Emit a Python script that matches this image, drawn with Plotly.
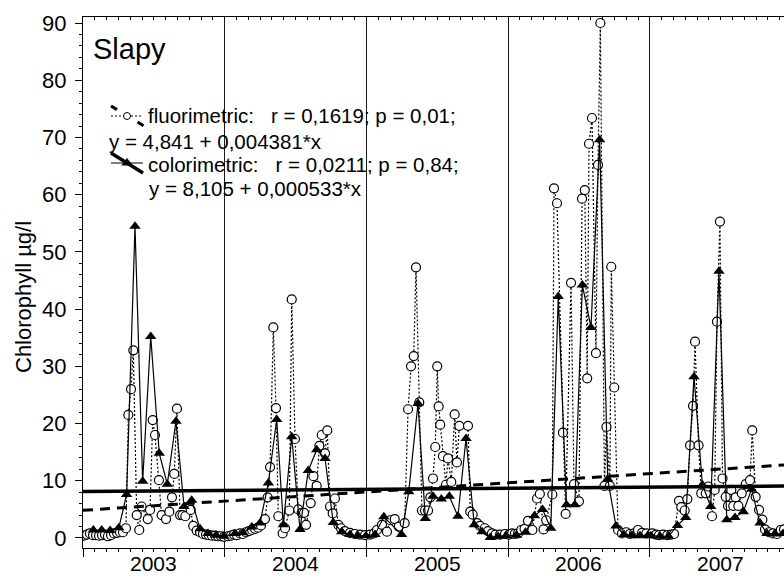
import plotly.graph_objects as go

# ---------------- data (decimal years, chlorophyll µg/l) ----------------
fluor_x = [
    2003.007, 2003.028, 2003.049, 2003.071, 2003.092, 2003.113, 2003.134, 2003.155, 2003.176, 2003.198,
    2003.219, 2003.240, 2003.261, 2003.282, 2003.303, 2003.320, 2003.339, 2003.355, 2003.379, 2003.397,
    2003.414, 2003.457, 2003.473, 2003.492, 2003.508, 2003.536, 2003.555, 2003.586, 2003.609, 2003.628,
    2003.644, 2003.663, 2003.685, 2003.702, 2003.722, 2003.760, 2003.778, 2003.802, 2003.826, 2003.847,
    2003.868, 2003.889, 2003.910, 2003.932, 2003.953, 2003.974, 2003.995,
    2004.023, 2004.044, 2004.066, 2004.087, 2004.108, 2004.129, 2004.150, 2004.171, 2004.193, 2004.214,
    2004.235, 2004.256, 2004.284, 2004.303, 2004.320, 2004.343, 2004.362, 2004.378, 2004.409, 2004.426,
    2004.456, 2004.473, 2004.496, 2004.519, 2004.543, 2004.560, 2004.574, 2004.607, 2004.626, 2004.649,
    2004.668, 2004.685, 2004.708, 2004.724, 2004.743, 2004.762, 2004.778, 2004.802, 2004.821, 2004.849,
    2004.884, 2004.919, 2004.955, 2004.990,
    2005.025, 2005.054, 2005.075, 2005.110, 2005.145, 2005.169, 2005.200, 2005.228, 2005.270, 2005.294,
    2005.315, 2005.334, 2005.350, 2005.373, 2005.392, 2005.414, 2005.435, 2005.451, 2005.470, 2005.486,
    2005.500, 2005.510, 2005.521, 2005.540, 2005.561, 2005.576, 2005.599, 2005.623, 2005.639, 2005.656,
    2005.717, 2005.733, 2005.750, 2005.781, 2005.802, 2005.835, 2005.858, 2005.886, 2005.911, 2005.943,
    2005.978,
    2006.006, 2006.028, 2006.047, 2006.070, 2006.093, 2006.116, 2006.140, 2006.171, 2006.204, 2006.224,
    2006.250, 2006.269, 2006.312, 2006.324, 2006.345, 2006.387, 2006.406, 2006.444, 2006.465, 2006.500,
    2006.522, 2006.541, 2006.558, 2006.571, 2006.592, 2006.620, 2006.634, 2006.651, 2006.680, 2006.694,
    2006.718, 2006.728, 2006.749, 2006.776, 2006.804, 2006.834, 2006.860, 2006.888, 2006.917, 2006.945,
    2006.975,
    2007.018, 2007.044, 2007.065, 2007.093, 2007.124, 2007.150, 2007.171, 2007.206, 2007.222, 2007.246,
    2007.265, 2007.284, 2007.305, 2007.319, 2007.344, 2007.363, 2007.395, 2007.413, 2007.439, 2007.458,
    2007.474, 2007.495, 2007.513, 2007.536, 2007.552, 2007.575, 2007.589, 2007.606, 2007.625, 2007.649,
    2007.677, 2007.707, 2007.723, 2007.747, 2007.771, 2007.794, 2007.813, 2007.841, 2007.869, 2007.898,
    2007.924, 2007.947,
]
fluor_y = [
    0.4, 0.6, 0.8, 0.5, 0.5, 0.4, 0.5, 0.6, 0.3, 0.5,
    0.8, 0.9, 1.0, 1.0, 1.7, 21.5, 26.0, 32.8, 4.0, 1.4,
    5.5, 3.3, 4.9, 20.6, 18.0, 10.1, 4.0, 3.3, 4.6, 7.1,
    11.2, 22.6, 4.0, 4.0, 3.8, 4.9, 2.1, 1.3, 1.0, 0.7,
    0.6, 0.5, 0.4, 0.4, 0.3, 0.3, 0.2,
    0.3, 0.4, 0.6, 0.5, 0.8, 0.7, 1.0, 1.2, 1.4, 1.6,
    1.8, 2.2, 3.3, 7.1, 12.4, 36.8, 22.7, 3.8, 0.8, 1.7,
    4.8, 41.7, 17.3, 5.0, 4.4, 4.4, 2.3, 6.1, 10.8, 9.1,
    16.1, 18.0, 14.8, 18.8, 5.5, 4.3, 6.9, 2.3, 1.7, 1.2,
    0.9, 0.7, 0.6, 0.5,
    0.6, 0.8, 1.4, 2.3, 1.1, 3.1, 3.3, 2.0, 2.6, 22.5,
    30.0, 31.8, 47.3, 23.7, 4.8, 4.8, 4.8, 7.1, 10.4, 15.9,
    30.0, 23.0, 19.8, 14.3, 9.3, 13.9, 9.8, 21.6, 13.2, 19.6,
    19.6, 4.6, 4.1, 2.6, 2.1, 1.7, 1.2, 0.8, 0.6, 0.6,
    0.7,
    0.6, 0.8, 0.7, 0.8, 1.4, 1.6, 3.0, 1.4, 6.9, 7.7,
    1.5, 3.1, 7.6, 61.1, 58.5, 18.4, 4.2, 44.6, 9.4, 6.4,
    59.3, 60.8, 27.9, 68.9, 73.4, 32.3, 65.2, 90.0, 9.1, 19.4,
    9.1, 47.4, 26.3, 1.4, 0.8, 1.0, 0.7, 0.8, 1.4, 0.9,
    0.8,
    0.8, 0.6, 0.5, 0.6, 0.5, 0.6, 0.7, 6.5, 5.4, 4.8,
    6.8, 16.2, 23.1, 34.3, 16.2, 7.8, 7.8, 9.0, 3.8, 8.4,
    37.8, 55.3, 10.4, 7.2, 5.6, 8.4, 5.6, 7.1, 5.6, 7.8,
    9.4, 10.1, 18.8, 7.2, 4.9, 3.2, 1.5, 1.0, 0.8, 0.7,
    1.4, 1.5,
]

color_x = [
    2003.073, 2003.132, 2003.191, 2003.253, 2003.308, 2003.367, 2003.421, 2003.478, 2003.538, 2003.595,
    2003.656, 2003.713, 2003.767, 2003.826, 2003.882, 2003.939, 2003.995,
    2004.073, 2004.129, 2004.191, 2004.249, 2004.308, 2004.367, 2004.414, 2004.473, 2004.531, 2004.590,
    2004.649, 2004.708, 2004.766, 2004.826, 2004.884, 2004.941, 2004.997,
    2005.061, 2005.123, 2005.248, 2005.299, 2005.364, 2005.416, 2005.470, 2005.529, 2005.585, 2005.646,
    2005.703, 2005.761, 2005.816, 2005.874, 2005.929, 2005.985,
    2006.058, 2006.123, 2006.186, 2006.243, 2006.301, 2006.354, 2006.412, 2006.471, 2006.524, 2006.585,
    2006.646, 2006.703, 2006.761, 2006.818, 2006.874, 2006.931, 2006.987,
    2007.008, 2007.072, 2007.132, 2007.195, 2007.254, 2007.312, 2007.371, 2007.430, 2007.488, 2007.543,
    2007.601, 2007.660, 2007.718, 2007.778, 2007.827, 2007.884, 2007.940,
]
color_y = [
    1.4, 1.4, 1.3, 1.8, 7.6, 54.5, 9.9, 35.2, 14.8, 9.4,
    20.4, 5.5, 6.6, 1.6, 0.8, 0.5, 0.3,
    0.8, 0.9, 1.9, 2.6, 9.6, 20.7, 2.3, 17.7, 1.5, 11.8,
    15.4, 13.9, 2.7, 1.1, 0.6, 0.4, 0.4,
    0.6, 3.7, 0.6, 8.1, 23.5, 3.4, 7.3, 6.8, 7.3, 3.8,
    17.4, 2.3, 1.1, 0.1, 0.3, 0.4,
    0.5, 1.0, 3.9, 5.0, 1.7, 42.2, 5.8, 5.8, 44.2, 36.8,
    69.6, 10.3, 2.1, 0.6, 0.5, 0.4, 0.5,
    0.4, 0.3, 0.3, 2.2, 3.6, 28.2, 9.3, 5.5, 46.6, 3.2,
    3.6, 4.6, 8.5, 2.6, 0.8, 0.7, 0.8,
]

years = [2003, 2004, 2005, 2006, 2007]
year_labels = ["2003", "2004", "2005", "2006", "2007"]

# regression: y = a + b * x, x in days since 1 Jan 2003
fluor_a, fluor_b = 4.841, 0.004381
color_a, color_b = 8.105, 0.000533

x_start, x_end = 2003.0, 2007.947
trend_x = [x_start, x_end]
fluor_trend = [fluor_a + fluor_b * (x - x_start) * 365.25 for x in trend_x]
color_trend = [color_a + color_b * (x - x_start) * 365.25 for x in trend_x]

site = "Slapy"
y_title = "Chlorophyll µg/l"
leg_f1 = "fluorimetric:\u00a0\u00a0\u00a0r = 0,1619; p = 0,01;"
leg_f2 = "y = 4,841 + 0,004381*x"
leg_c1 = "colorimetric:\u00a0\u00a0\u00a0r = 0,0211; p = 0,84;"
leg_c2 = "y = 8,105 + 0,000533*x"

FONT = "Liberation Sans, Arial, Helvetica, sans-serif"

# plot-area geometry in pixels (used only to place decorations)
L, R, T, B = 83, 784, 17, 548
W, H = R - L, B - T
def px(x):
    return (x - L) / W
def py(y):
    return (B - y) / H

fig = go.Figure()

# measured series
fig.add_trace(go.Scatter(
    x=fluor_x, y=fluor_y, mode="lines+markers",
    line=dict(color="black", width=1.2, dash="2px,2px"),
    marker=dict(symbol="circle", size=9, color="white", line=dict(color="black", width=1.2)),
    showlegend=False,
))
fig.add_trace(go.Scatter(
    x=color_x, y=color_y, mode="lines+markers",
    line=dict(color="black", width=1.2),
    marker=dict(symbol="triangle-up", size=10, color="black", line=dict(width=0)),
    showlegend=False,
))

# regression lines (on the overlay x axis so they are drawn on top)
fig.add_trace(go.Scatter(
    x=trend_x, y=fluor_trend, xaxis="x2", yaxis="y", mode="lines",
    line=dict(color="black", width=3, dash="10px,7px"), showlegend=False,
))
fig.add_trace(go.Scatter(
    x=trend_x, y=color_trend, xaxis="x2", yaxis="y", mode="lines",
    line=dict(color="black", width=3.5), showlegend=False,
))

# legend key (drawn in a pixel-unit overlay coordinate system)
fig.add_trace(go.Scatter(x=[111, 141], y=[116, 116], xaxis="x3", yaxis="y3", mode="lines",
                         line=dict(color="black", width=1, dash="2px,2px"), showlegend=False))
fig.add_trace(go.Scatter(x=[111, 144], y=[106, 126], xaxis="x3", yaxis="y3", mode="lines",
                         line=dict(color="black", width=3, dash="7px,24px"), showlegend=False))
fig.add_trace(go.Scatter(x=[127], y=[116], xaxis="x3", yaxis="y3", mode="markers",
                         marker=dict(symbol="circle", size=7, color="white", line=dict(color="black", width=1)),
                         showlegend=False))
fig.add_trace(go.Scatter(x=[111, 143], y=[163, 163], xaxis="x3", yaxis="y3", mode="lines",
                         line=dict(color="black", width=1), showlegend=False))
fig.add_trace(go.Scatter(x=[111, 143], y=[153, 173], xaxis="x3", yaxis="y3", mode="lines",
                         line=dict(color="black", width=3.5), showlegend=False))
fig.add_trace(go.Scatter(x=[127], y=[163], xaxis="x3", yaxis="y3", mode="markers",
                         marker=dict(symbol="triangle-up", size=10, color="black"), showlegend=False))

ann = []
def txt(x, y, s, size, xanchor="left", angle=0):
    ann.append(dict(x=px(x), y=py(y), xref="paper", yref="paper", text=s, showarrow=False,
                    xanchor=xanchor, yanchor="middle", textangle=angle,
                    font=dict(family=FONT, size=size, color="black")))

txt(91, 49, site, 29)
txt(146, 116, leg_f1, 20.5)
txt(107, 141, leg_f2, 20.5)
txt(146, 164, leg_c1, 20.5)
txt(147, 188, leg_c2, 20.5)
txt(23, 297, y_title, 22, xanchor="center", angle=-90)
for yv, lab in zip(years, year_labels):
    ann.append(dict(x=yv + 0.5, y=py(576), xref="x", yref="paper", text=lab, showarrow=False,
                    xanchor="center", yanchor="bottom", borderpad=0,
                    font=dict(family=FONT, size=21, color="black")))

fig.update_layout(
    width=784, height=577,
    margin=dict(l=L, r=784 - R, t=T, b=577 - B),
    paper_bgcolor="white", plot_bgcolor="white",
    font=dict(family=FONT, size=22, color="black"),
    showlegend=False,
    annotations=ann,
    xaxis=dict(
        range=[x_start, x_end], tickmode="array", tickvals=years, ticktext=[""] * len(years),
        ticks="outside", ticklen=8, tickcolor="black", tickwidth=1,
        showgrid=True, gridcolor="#1a1a1a", gridwidth=1,
        showline=True, linecolor="black", linewidth=1, zeroline=False,
        minor=dict(dtick=1 / 12, tick0=2003, ticks="outside", ticklen=3, tickcolor="black", showgrid=False),
    ),
    xaxis2=dict(
        range=[x_start, x_end], overlaying="x", side="top", anchor="y",
        tickmode="linear", tick0=2003, dtick=1 / 12, ticks="inside", ticklen=3, tickcolor="black",
        showticklabels=False, showgrid=False, zeroline=False,
        showline=True, linecolor="black", linewidth=1,
    ),
    yaxis=dict(
        range=[-1.75, 91.05], tickmode="array", tickvals=list(range(0, 91, 10)),
        ticks="outside", ticklen=7, tickcolor="black", tickwidth=1,
        tickfont=dict(family=FONT, size=22), ticklabelstandoff=4,
        minor=dict(dtick=2, tick0=0, ticks="outside", ticklen=3, tickcolor="black", showgrid=False),
        showgrid=False, zeroline=False, showline=True, linecolor="black", linewidth=1,
    ),
    xaxis3=dict(range=[L, R], overlaying="x", anchor="y3", visible=False, fixedrange=True),
    yaxis3=dict(range=[B, T], overlaying="y", anchor="x3", visible=False, fixedrange=True),
)

fig.write_html("out.html")
